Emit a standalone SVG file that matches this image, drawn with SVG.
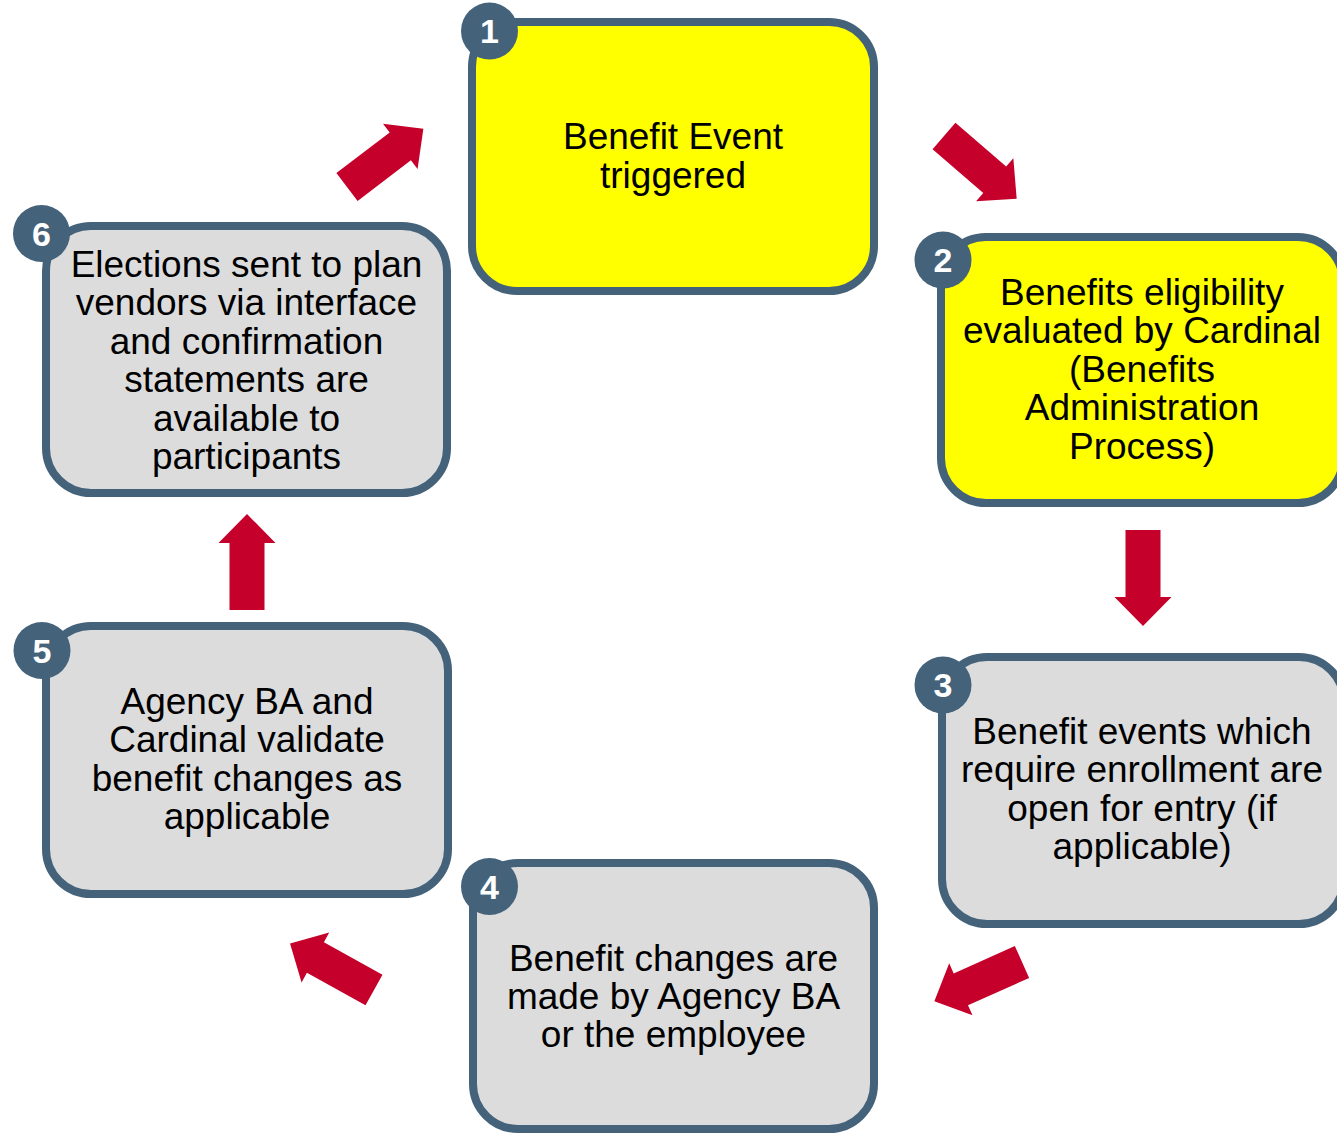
<svg xmlns="http://www.w3.org/2000/svg" width="1337" height="1134" viewBox="0 0 1337 1134">
<defs>
<style>
.box{stroke:#44627A;stroke-width:8}
.yel{fill:#FFFF00}
.gry{fill:#DCDCDC}
.badge{fill:#44627A}
.num{font-family:"Liberation Sans",Arial,sans-serif;font-weight:bold;font-size:34px;fill:#FFFFFF;text-anchor:middle}
.lbl{font-family:"Liberation Sans",Arial,sans-serif;font-size:37px;fill:#000000;text-anchor:middle}
.arr{fill:#C5002A}
</style>
<polygon id="arrow" points="0,-17.5 67,-17.5 67,-28.5 96,0 67,28.5 67,17.5 0,17.5"/>
</defs>
<rect width="1337" height="1134" fill="#FFFFFF"/>
<g id="connectors" class="arr">
<use href="#arrow" transform="translate(944,136) rotate(40.8)"/>
<use href="#arrow" transform="translate(1143,530) rotate(90)"/>
<use href="#arrow" transform="translate(1022,962) rotate(155.9)"/>
<use href="#arrow" transform="translate(374,990) rotate(209)"/>
<use href="#arrow" transform="translate(247,610) rotate(-90)"/>
<use href="#arrow" transform="translate(347,187) rotate(-37.3)"/>
</g>
<g id="node1">
<rect class="box yel" x="472" y="22" width="402" height="269" rx="45"/>
<circle class="badge" cx="489.5" cy="31" r="28.5"/>
<text class="num" x="489.5" y="43">1</text>
<text class="lbl" x="673" y="148.5">Benefit Event</text>
<text class="lbl" x="673" y="187.5">triggered</text>
</g>
<g id="node2">
<rect class="box yel" x="941" y="237" width="402" height="266" rx="45"/>
<circle class="badge" cx="943" cy="260" r="28.5"/>
<text class="num" x="943" y="272">2</text>
<text class="lbl" x="1142" y="305">Benefits eligibility</text>
<text class="lbl" x="1142" y="343.4">evaluated by Cardinal</text>
<text class="lbl" x="1142" y="381.8">(Benefits</text>
<text class="lbl" x="1142" y="420.2">Administration</text>
<text class="lbl" x="1142" y="458.6">Process)</text>
</g>
<g id="node3">
<rect class="box gry" x="942" y="657" width="402" height="267" rx="45"/>
<circle class="badge" cx="943" cy="685" r="28.5"/>
<text class="num" x="943" y="697">3</text>
<text class="lbl" x="1142" y="744">Benefit events which</text>
<text class="lbl" x="1142" y="782.4">require enrollment are</text>
<text class="lbl" x="1142" y="820.8">open for entry (if</text>
<text class="lbl" x="1142" y="859.2">applicable)</text>
</g>
<g id="node4">
<rect class="box gry" x="473" y="863" width="401" height="266" rx="45"/>
<circle class="badge" cx="489.5" cy="886.5" r="28.5"/>
<text class="num" x="489.5" y="898.5">4</text>
<text class="lbl" x="673.5" y="970.5">Benefit changes are</text>
<text class="lbl" x="673.5" y="1008.9">made by Agency BA</text>
<text class="lbl" x="673.5" y="1047.3">or the employee</text>
</g>
<g id="node5">
<rect class="box gry" x="46" y="626" width="402" height="268" rx="45"/>
<circle class="badge" cx="42" cy="650.5" r="28.5"/>
<text class="num" x="42" y="662.5">5</text>
<text class="lbl" x="247" y="713.5">Agency BA and</text>
<text class="lbl" x="247" y="752">Cardinal validate</text>
<text class="lbl" x="247" y="790.5">benefit changes as</text>
<text class="lbl" x="247" y="829">applicable</text>
</g>
<g id="node6">
<rect class="box gry" x="46" y="226" width="401" height="267" rx="45"/>
<circle class="badge" cx="41.5" cy="233.5" r="28.5"/>
<text class="num" x="41.5" y="245.5">6</text>
<text class="lbl" x="246.5" y="277">Elections sent to plan</text>
<text class="lbl" x="246.5" y="315.4">vendors via interface</text>
<text class="lbl" x="246.5" y="353.8">and confirmation</text>
<text class="lbl" x="246.5" y="392.2">statements are</text>
<text class="lbl" x="246.5" y="430.6">available to</text>
<text class="lbl" x="246.5" y="469">participants</text>
</g>
</svg>
